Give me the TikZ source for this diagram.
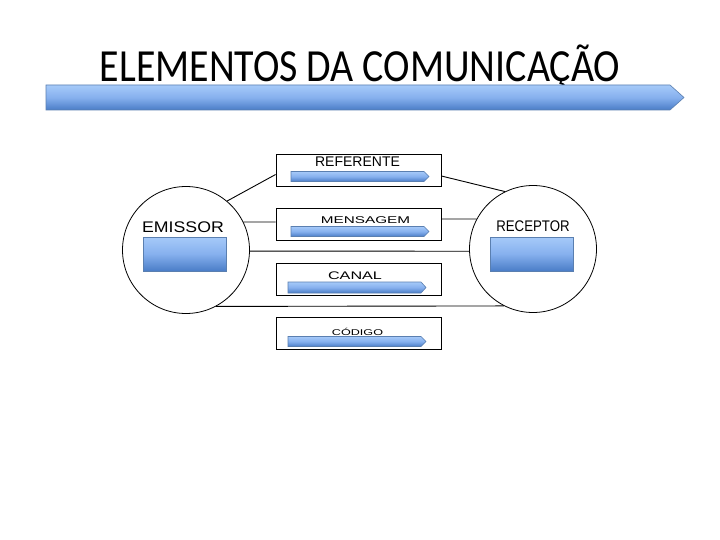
\documentclass[tikz,border=0pt]{standalone}
\usepackage{fontspec}
\setmainfont{Liberation Sans}
\newfontfamily\titlefont{Carlito}
\usetikzlibrary{calc}
\definecolor{bluetop}{HTML}{A6CAF9}
\definecolor{bluemid}{HTML}{86B0EE}
\definecolor{bluebot}{HTML}{4A7DC7}
\definecolor{blueedge}{HTML}{5A7FB0}
\tikzset{
  bluefill/.style={top color=bluetop, bottom color=bluebot, middle color=bluemid, draw=blueedge, line width=0.6pt},
  elembox/.style={draw=black, line width=0.8pt, minimum width=165pt, minimum height=32pt, inner sep=0pt},
  party/.style={circle, draw=black, line width=0.8pt, minimum size=127pt, inner sep=0pt},
  link/.style={draw=black, line width=0.9pt},
  lbl/.style={inner sep=0pt, anchor=base}
}
\begin{document}
\begin{tikzpicture}[x=1pt,y=-1pt]
\useasboundingbox (0,0) rectangle (720,540);
\fill[white] (0,0) rectangle (720,540);
% title
\node[lbl] (title) at (360,82) {\scalebox{0.867}[1]{\titlefont\fontsize{46}{50}\selectfont ELEMENTOS DA COMUNICAÇÃO}};
\path[bluefill] (46,85) -- (670,85) -- (684,97.5) -- (670,110) -- (46,110) -- cycle;
% circles
\node[party] (em) at (186,250) {};
\node[party] (rc) at (533,249) {};
% boxes
\node[elembox] (ref) at (358.5,170) {};
\node[elembox] (men) at (358.5,224.5) {};
\node[elembox] (can) at (358.5,279.5) {};
\node[elembox] (cod) at (358.5,333.5) {};
% inner arrows
\path[bluefill] (291,171.5) -- (424,171.5) -- (429,176.5) -- (424,181.5) -- (291,181.5) -- cycle;
\path[bluefill] (291,226.5) -- (424,226.5) -- (429,231.5) -- (424,236.5) -- (291,236.5) -- cycle;
\path[bluefill] (288,282) -- (421,282) -- (426,287.5) -- (421,293) -- (288,293) -- cycle;
\path[bluefill] (288,336.5) -- (421,336.5) -- (426,341.5) -- (421,346.5) -- (288,346.5) -- cycle;
% labels in boxes
\node[lbl] at (357.5,167) {\fontsize{14}{16}\selectfont REFERENTE};
\node[lbl] at (365.5,224) {\scalebox{1.56}[1]{\fontsize{9.8}{11}\selectfont MENSAGEM}};
\node[lbl] at (355,279) {\scalebox{1.47}[1]{\fontsize{11}{13}\selectfont CANAL}};
\node[lbl] at (357.5,335) {\scalebox{1.5}[1]{\fontsize{8.4}{10}\selectfont CÓDIGO}};
% emissor / receptor
\node[lbl] at (183,233) {\scalebox{1.15}[1]{\fontsize{15.4}{18}\selectfont EMISSOR}};
\node[lbl] at (533,231) {\scalebox{0.86}[1]{\fontsize{15.4}{18}\selectfont RECEPTOR}};
\path[bluefill] (143,237) rectangle (226,271);
\path[bluefill] (490,237) rectangle (573,271);
% connectors
\draw[link] (em.50.6) -- ($(ref.west)+(0,4.5)$);
\draw[link] ($(ref.east)+(0,6)$) -- (rc.116.6);
\draw[link] (em.26.4) -- ($(men.west)+(0,-2.5)$);
\draw[link] ($(men.east)+(0,-5.5)$) -- (rc.152);
\draw[link] (em.-1.8) -- (rc.182.7);
\draw[link] (em.-62.7) -- (rc.243);
\end{tikzpicture}
\end{document}
